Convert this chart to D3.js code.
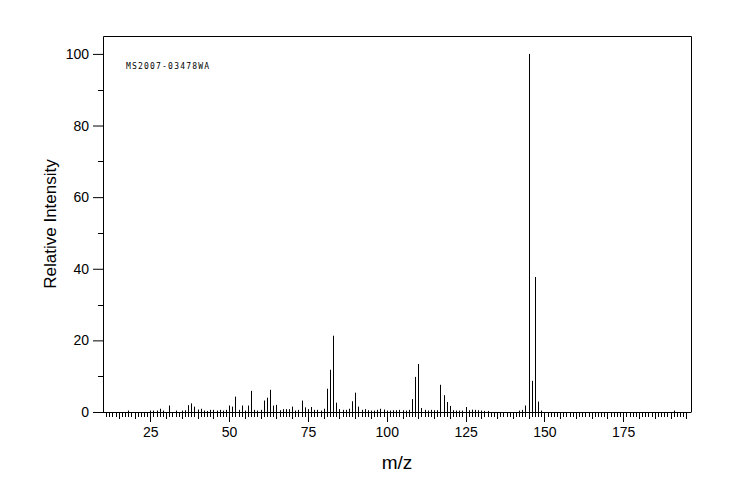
<!DOCTYPE html>
<html><head><meta charset="utf-8">
<script src="https://cdn.jsdelivr.net/npm/d3@7"></script>
<style>body{margin:0;background:#fff}svg{display:block}</style>
</head><body>
<svg id="c" width="744" height="500"></svg>
<script>
const mzValues = [18,25,26,27,28,29,31,33,35,36,37,38,39,40,41,42,43,44,45,46,47,48,49,50,51,52,53,54,55,56,57,58,59,60,61,62,63,64,65,66,67,68,69,70,71,72,73,74,75,76,77,78,79,80,81,82,83,84,85,86,87,88,89,90,91,92,93,94,95,96,97,98,99,100,101,102,103,104,105,106,107,108,109,110,111,112,113,114,115,116,117,118,119,120,121,122,123,124,125,126,127,128,129,130,131,132,142,143,144,145,146,147,148,149,191];
const intensities = [0.4,0.4,0.4,0.4,0.9,0.4,1.8,0.4,0.4,0.5,1.9,2.4,1.5,0.7,0.9,0.4,0.3,0.6,0.6,0.4,0.6,0.4,0.6,1.8,1.5,4.3,0.6,1.8,0.4,1.8,5.9,0.6,0.4,0.6,3.2,4.0,6.2,1.8,2.0,0.5,0.8,0.8,0.8,1.5,0.4,0.6,3.2,1.3,0.8,1.4,0.6,0.6,0.4,0.9,6.5,11.8,21.3,2.6,0.8,0.6,0.6,0.9,3.0,5.4,1.5,0.6,0.8,0.5,0.4,0.4,0.6,0.9,0.7,0.4,0.4,0.5,0.5,0.6,0.5,0.4,0.6,3.6,9.8,13.4,1.1,0.6,0.4,0.6,0.5,0.5,7.6,4.7,2.8,1.7,0.5,0.4,0.4,0.4,1.4,0.5,0.65,0.6,0.5,0.4,0.3,0.3,0.4,0.6,1.8,100,8.7,37.7,2.9,0.4,0.4];
const xTickLabels = [25,50,75,100,125,150,175];
const yTickLabels = [0,20,40,60,80,100];
const sampleId = "MS2007-03478WA";
const xTitle = "m/z";
const yTitle = "Relative Intensity";

const L = 103, R = 691, T = 36, B = 412;
const x = d3.scaleLinear().domain([10, 196.5]).range([L, R]);
const y = d3.scaleLinear().domain([0, 105]).range([B, T]);
const svg = d3.select("#c");
const px = v => Math.round(v) + 0.5;

// frame
svg.append("path")
  .attr("d", `M${px(L)},${px(B)}V${px(T)}H${px(R)}V${px(B)}`)
  .attr("fill","none").attr("stroke","#000").attr("stroke-width",1);

// x minor ticks
const xMinor = d3.range(11, 196);
svg.append("g").selectAll("line").data(xMinor).join("line")
  .attr("x1", d => px(x(d))).attr("x2", d => px(x(d)))
  .attr("y1", B).attr("y2", d => B + (d % 25 === 0 ? 10 : d % 5 === 0 ? 7 : 5))
  .attr("stroke","#000").attr("stroke-width",1);

// x axis line + labels via d3 axis
const xAxis = d3.axisBottom(x).tickValues(xTickLabels).tickSize(0).tickPadding(15);
const gx = svg.append("g").attr("transform", `translate(0,${B})`).call(xAxis);
gx.select(".domain").attr("stroke","#000").attr("d", `M${L},0.5H${R}`);
gx.selectAll("text").attr("font-family","Liberation Sans, Arial, sans-serif").attr("font-size",14).attr("fill","#000");

// y ticks
const yMinor = d3.range(10, 101, 20);
svg.append("g").selectAll("line").data(yMinor).join("line")
  .attr("x1", L - 5).attr("x2", L).attr("y1", d => px(y(d))).attr("y2", d => px(y(d)))
  .attr("stroke","#000");
const yAxis = d3.axisLeft(y).tickValues(yTickLabels).tickSize(10).tickPadding(4);
const gy = svg.append("g").attr("transform", `translate(${L},0)`).call(yAxis);
gy.select(".domain").remove();
gy.selectAll("line").attr("stroke","#000");
gy.selectAll("text").attr("font-family","Liberation Sans, Arial, sans-serif").attr("font-size",14).attr("fill","#000");

// peaks
svg.append("g").selectAll("line").data(mzValues).join("line")
  .attr("x1", d => px(x(d))).attr("x2", d => px(x(d)))
  .attr("y1", B).attr("y2", (d,i) => y(intensities[i]))
  .attr("stroke","#000").attr("stroke-width",1);

// sample id
svg.append("text").attr("x", 126).attr("y", 69)
  .attr("font-family","DejaVu Sans Mono, monospace").attr("font-size",8).attr("letter-spacing",1.2)
  .text(sampleId);

// titles
svg.append("text").attr("x", (L+R)/2).attr("y", 469).attr("text-anchor","middle")
  .attr("font-family","Liberation Sans, Arial, sans-serif").attr("font-size",19).text(xTitle);
svg.append("text").attr("transform", `translate(56,${(T+B)/2}) rotate(-90)`).attr("text-anchor","middle")
  .attr("font-family","Liberation Sans, Arial, sans-serif").attr("font-size",17).text(yTitle);
</script>
</body></html>
